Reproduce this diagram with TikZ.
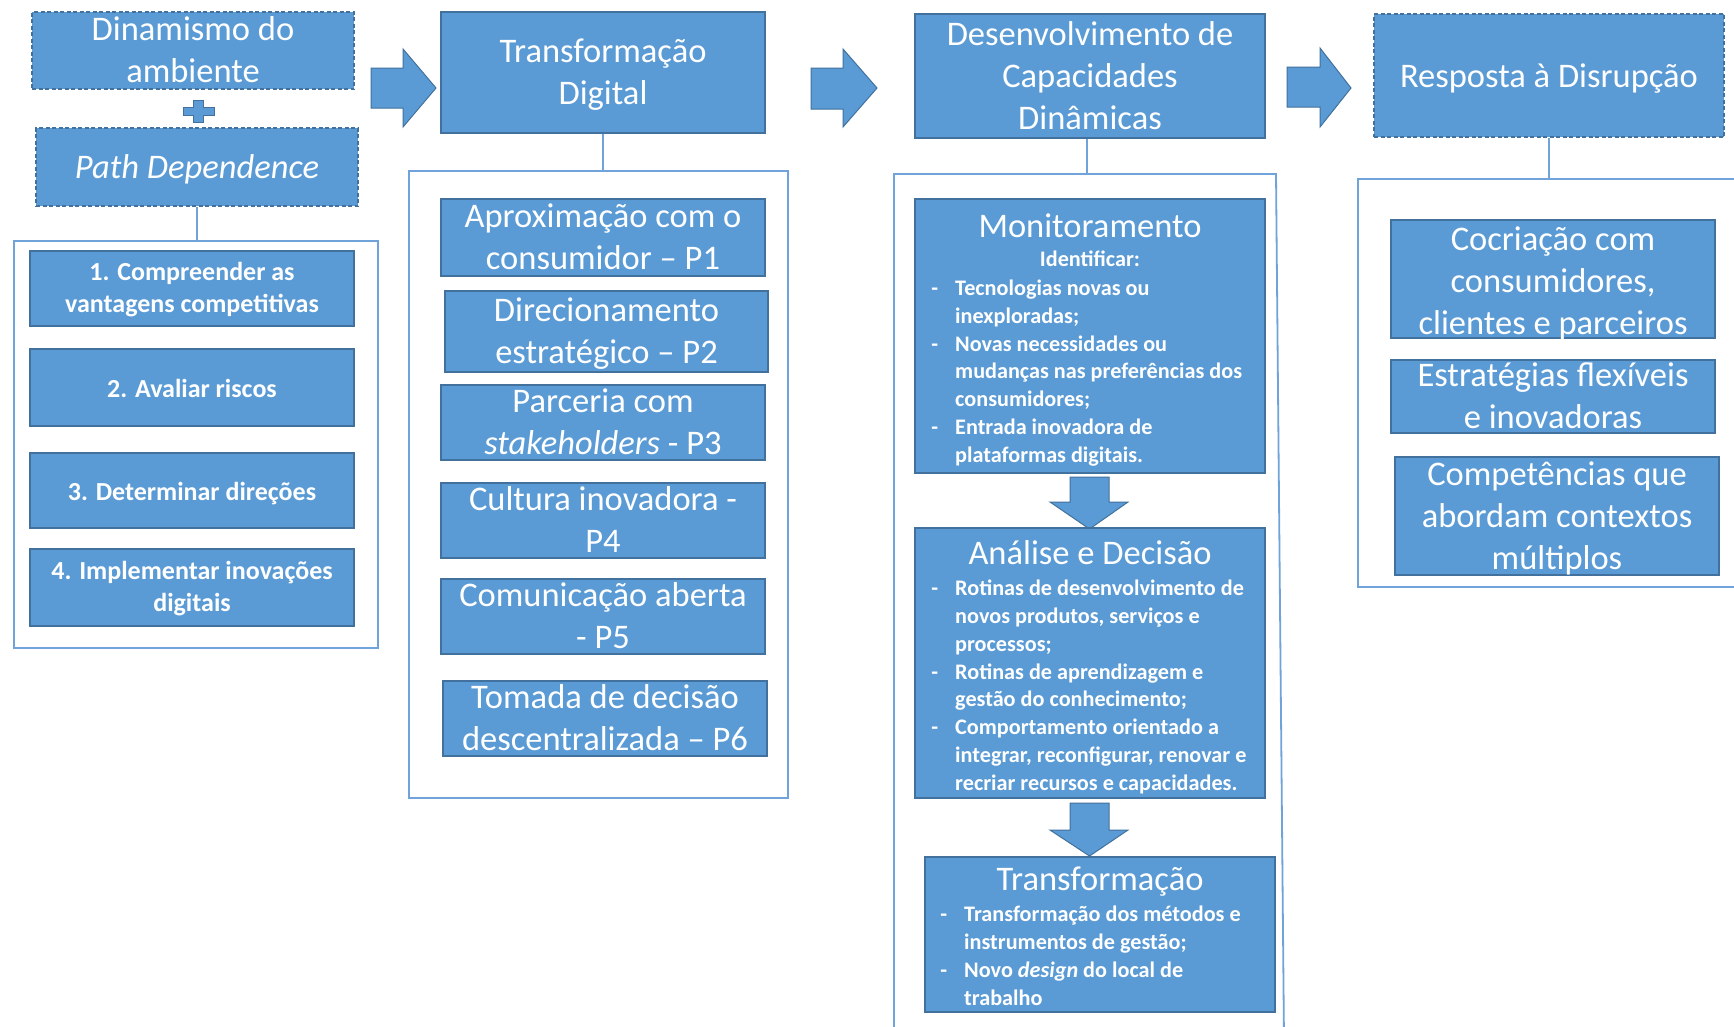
\documentclass[tikz,border=0pt]{standalone}
\usepackage{fontspec}
\setmainfont{Carlito}
\definecolor{fillblue}{HTML}{5B9BD5}
\definecolor{edgeblue}{HTML}{41719C}
\definecolor{frameblue}{HTML}{6FA3DA}
\newcommand\bigf{\fontsize{34.5}{42}\selectfont}
\newcommand\midf{\fontsize{26}{32}\selectfont\bfseries}
\newcommand\smallf{\fontsize{22.2}{27.9}\selectfont\bfseries}
% rectangle node given by its corners: style, name, x1, y1, x2, y2
\newcommand\rbox[6]{\node[#1,minimum width={#5-#3},minimum height={#6-#4},inner sep=0pt] (#2) at ({(#3+#5)/2},{(#4+#6)/2}) {};}
\newcommand\dashitem{\llap{-\hspace{17pt}}}
\begin{document}
\begin{tikzpicture}[x=1pt,y=-1pt,
  bluebox/.style={rectangle,fill=fillblue,draw=edgeblue,line width=1.4pt},
  dashbox/.style={bluebox,dashed,dash pattern=on 4pt off 2.5pt},
  frame/.style={rectangle,draw=frameblue,line width=1.8pt},
  link/.style={draw=frameblue,line width=1.8pt},
  bigtxt/.style={text=white,align=center,font=\bigf,inner sep=0pt,yshift=-5.5pt,
    execute at begin node=\strut,execute at end node=\strut},
  midtxt/.style={text=white,align=center,font=\midf,inner sep=0pt,yshift=-4pt,
    execute at begin node=\strut,execute at end node=\strut},
  listtxt/.style={text=white,align=left,font=\smallf,inner sep=0pt,anchor=north west,
    execute at begin node=\strut},
  blockarrow/.style={fill=fillblue,draw=edgeblue,line width=1pt,line join=miter}]
\useasboundingbox (0,0) rectangle (1734,1026);
\clip (0,0) rectangle (1734,1026);
\fill[white] (0,0) rectangle (1734,1026);

% ---- column 1: environment dynamism + path dependence
\rbox{dashbox}{dyn}{32}{12}{354}{89}
\node[bigtxt] (dynt) at (dyn) {Dinamismo do\\ambiente};
\filldraw[fill=fillblue,draw=edgeblue,line width=0.8pt]
  (193,100) -- (203,100) -- (203,107) -- (214,107) -- (214,115) -- (203,115)
  -- (203,122) -- (193,122) -- (193,115) -- (183,115) -- (183,107) -- (193,107) -- cycle;
\rbox{dashbox}{pd}{36}{128}{358}{206}
\node[bigtxt,yshift=2pt] (pdt) at (pd) {\itshape Path Dependence};
\rbox{frame}{c1}{14}{241}{378}{648}
\draw[link] (pd.south) -- (pd.south |- c1.north);
\rbox{bluebox}{s1}{30}{251}{354}{326}
\node[midtxt] (s1t) at (s1) {1. Compreender as\\vantagens competitivas};
\rbox{bluebox}{s2}{30}{349}{354}{426}
\node[midtxt] (s2t) at (s2) {2. Avaliar riscos};
\rbox{bluebox}{s3}{30}{453}{354}{528}
\node[midtxt] (s3t) at (s3) {3. Determinar direções};
\rbox{bluebox}{s4}{30}{549}{354}{626}
\node[midtxt] (s4t) at (s4) {4. Implementar inovações\\digitais};

% block arrow 1
\filldraw[blockarrow] (371,68) -- (403,68) -- (403,49) -- (436,88) -- (403,127) -- (403,108) -- (371,108) -- cycle;

% ---- column 2: digital transformation
\rbox{bluebox}{td}{441}{12}{765}{133}
\node[bigtxt] (tdt) at (td) {Transformação\\Digital};
\rbox{frame}{c2}{409}{171}{788}{798}
\draw[link] (td.south) -- (td.south |- c2.north);
\rbox{bluebox}{p1}{441}{199}{765}{276}
\node[bigtxt] (p1t) at (p1) {Aproximação com o\\consumidor – P1};
\rbox{bluebox}{p2}{445}{291}{768}{372}
\node[bigtxt] (p2t) at (p2) {Direcionamento\\estratégico – P2};
\rbox{bluebox}{p3}{441}{385}{765}{460}
\node[bigtxt] (p3t) at (p3) {Parceria com\\\textit{stakeholders} - P3};
\rbox{bluebox}{p4}{441}{483}{765}{558}
\node[bigtxt] (p4t) at (p4) {Cultura inovadora -\\P4};
\rbox{bluebox}{p5}{441}{579}{765}{654}
\node[bigtxt] (p5t) at (p5) {Comunicação aberta\\- P5};
\rbox{bluebox}{p6}{443}{681}{767}{756}
\node[bigtxt] (p6t) at (p6) {Tomada de decisão\\descentralizada – P6};

% block arrow 2
\filldraw[blockarrow] (811,68) -- (843,68) -- (843,49) -- (877,88) -- (843,127) -- (843,109) -- (811,109) -- cycle;

% ---- column 3: dynamic capabilities
\rbox{bluebox}{dcd}{915}{14}{1265}{138}
\node[bigtxt] (dcdt) at (dcd) {Desenvolvimento de\\Capacidades\\Dinâmicas};
\coordinate (c3top) at (1087,174);
\draw[link] (894,1040) -- (894,174) -- (1276,174) -- (1284,1040);
\draw[link] (dcd.south -| c3top) -- (c3top);

\rbox{bluebox}{mon}{915}{199}{1265}{473}
\node[text=white,font=\bigf,anchor=base,inner sep=0pt] (mont) at (1090,237) {Monitoramento};
\node[text=white,font=\smallf,anchor=base,inner sep=0pt] (monid) at (1090,266) {Identificar:};
\node[listtxt] (monl) at (955,279.5) {\dashitem Tecnologias novas ou\\inexploradas;\\
  \dashitem Novas necessidades ou\\mudanças nas preferências dos\\consumidores;\\
  \dashitem Entrada inovadora de\\plataformas digitais.};

\filldraw[blockarrow] (1070,477) -- (1109,477) -- (1109,502) -- (1128,502) -- (1089.5,529) -- (1050,502) -- (1070,502) -- cycle;

\rbox{bluebox}{ana}{915}{528}{1265}{798}
\node[text=white,font=\bigf,anchor=base,inner sep=0pt] (anat) at (1090,564) {Análise e Decisão};
\node[listtxt] (anal) at (955,579.5) {\dashitem Rotinas de desenvolvimento de\\novos produtos, serviços e\\processos;\\
  \dashitem Rotinas de aprendizagem e\\gestão do conhecimento;\\
  \dashitem Comportamento orientado a\\integrar, reconfigurar, renovar e\\recriar recursos e capacidades.};

\filldraw[blockarrow] (1070,803) -- (1109,803) -- (1109,830) -- (1128,830) -- (1089.5,856) -- (1050,830) -- (1070,830) -- cycle;

\rbox{bluebox}{trf}{925}{857}{1275}{1012}
\node[text=white,font=\bigf,anchor=base,inner sep=0pt] (trft) at (1100,890) {Transformação};
\node[listtxt] (trfl) at (964,906) {\dashitem Transformação dos métodos e\\instrumentos de gestão;\\
  \dashitem Novo \textit{design} do local de\\trabalho};

% block arrow 3
\filldraw[blockarrow] (1287,67) -- (1320,67) -- (1320,48) -- (1351,88) -- (1320,127) -- (1320,107) -- (1287,107) -- cycle;

% ---- column 4: response to disruption
\rbox{dashbox}{rd}{1374}{14}{1724}{137}
\node[bigtxt,yshift=1.5pt] (rdt) at (rd) {Resposta à Disrupção};
\coordinate (c4top) at (1549,179);
\draw[link] (1745,179) -- (1358,179) -- (1358,587) -- (1745,587);
\draw[link] (rd.south) -- (c4top);
\rbox{bluebox}{r1}{1391}{220}{1715}{338}
\node[bigtxt,yshift=-2pt] (r1t) at (r1) {Cocriação com\\consumidores,\\clientes e parceiros};
\rbox{bluebox}{r2}{1391}{360}{1715}{433}
\node[bigtxt] (r2t) at (r2) {Estratégias flexíveis\\e inovadoras};
\rbox{bluebox}{r3}{1395}{457}{1719}{575}
\node[bigtxt] (r3t) at (r3) {Competências que\\abordam contextos\\múltiplos};
\end{tikzpicture}
\end{document}
